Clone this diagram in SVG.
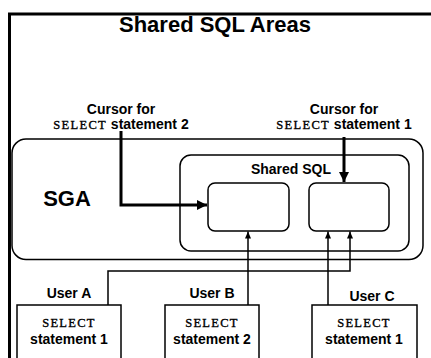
<svg xmlns="http://www.w3.org/2000/svg" width="431" height="358" viewBox="0 0 431 358">
<style>
text{font-family:"Liberation Sans",Arial,sans-serif;font-weight:bold;fill:#000}
.mono{font-family:"Liberation Serif","Times New Roman",serif;font-weight:normal;letter-spacing:1.3px;stroke:#000;stroke-width:0.35}
.box{fill:#fff;stroke:#000;stroke-width:1.5}
.thick{fill:none;stroke:#000;stroke-width:3}
.thin{fill:none;stroke:#000;stroke-width:1.5}
</style>
<defs>
<marker id="big" markerUnits="userSpaceOnUse" markerWidth="12" markerHeight="12" refX="10" refY="5" orient="auto">
<path d="M0,0 L10,5 L0,10 Z" fill="#000"/>
</marker>
<marker id="small" markerUnits="userSpaceOnUse" markerWidth="8" markerHeight="8" refX="7" refY="3" orient="auto">
<path d="M0,0 L7,3 L0,6 Z" fill="#000"/>
</marker>
</defs>
<rect width="431" height="358" fill="#fff"/>
<path d="M9.5,358 V14 H431" fill="none" stroke="#000" stroke-width="3"/>
<text x="215" y="32" font-size="22" text-anchor="middle">Shared SQL Areas</text>

<g id="sga">
<rect class="box" x="12" y="139" width="411" height="120.5" rx="14"/>
<text x="67" y="206" font-size="22" text-anchor="middle">SGA</text>
</g>
<g id="sharedsql">
<rect class="box" x="180" y="155" width="229" height="96" rx="11"/>
<text x="291" y="174" font-size="14" text-anchor="middle">Shared SQL</text>
</g>
<g id="area1"><rect class="box" x="208" y="183" width="81" height="48" rx="7"/></g>
<g id="area2"><rect class="box" x="309" y="183" width="80" height="48" rx="7"/></g>

<g id="cursor2">
<text x="121" y="114" font-size="14" text-anchor="middle">Cursor for</text>
<text x="121" y="129" font-size="14" text-anchor="middle"><tspan class="mono" font-size="12.5">SELECT</tspan> statement 2</text>
</g>
<g id="cursor1">
<text x="344" y="114" font-size="14" text-anchor="middle">Cursor for</text>
<text x="344" y="129" font-size="14" text-anchor="middle"><tspan class="mono" font-size="12.5">SELECT</tspan> statement 1</text>
</g>

<g id="userA">
<text x="69" y="298" font-size="14" text-anchor="middle">User A</text>
<rect class="box" x="17" y="305" width="104" height="60"/>
<text class="mono" x="69" y="327" font-size="12.5" text-anchor="middle">SELECT</text>
<text x="69" y="344" font-size="14" text-anchor="middle">statement 1</text>
</g>
<g id="userB">
<text x="212" y="298" font-size="14" text-anchor="middle">User B</text>
<rect class="box" x="165" y="305" width="94" height="60"/>
<text class="mono" x="212" y="327" font-size="12.5" text-anchor="middle">SELECT</text>
<text x="212" y="344" font-size="14" text-anchor="middle">statement 2</text>
</g>
<g id="userC">
<text x="372" y="301" font-size="14" text-anchor="middle">User C</text>
<rect class="box" x="312" y="305" width="105" height="60"/>
<text class="mono" x="364" y="327" font-size="12.5" text-anchor="middle">SELECT</text>
<text x="364" y="344" font-size="14" text-anchor="middle">statement 1</text>
</g>

<g id="connectors">
<path class="thick" d="M121,131 V205 H207" marker-end="url(#big)"/>
<path class="thick" d="M344,137 V182" marker-end="url(#big)"/>
<path class="thin" d="M248,305 V231.5" marker-end="url(#small)"/>
<path class="thin" d="M328,305 V231.5" marker-end="url(#small)"/>
<path class="thin" d="M108,305 V271 H350 V231.5" marker-end="url(#small)"/>
</g>
</svg>
